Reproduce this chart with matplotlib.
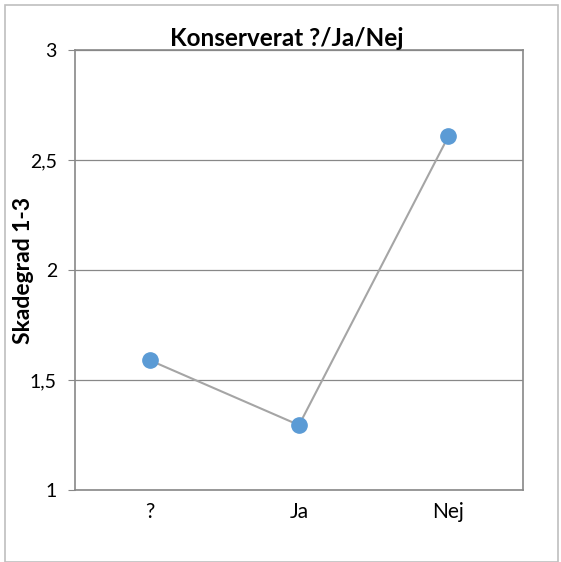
import matplotlib
matplotlib.use("Agg")
import matplotlib.pyplot as plt
from matplotlib.patches import Rectangle

categories = ["?", "Ja", "Nej"]
values = [1.59, 1.295, 2.607]
yticks = [1, 1.5, 2, 2.5, 3]
ytick_labels = ["1", "1,5", "2", "2,5", "3"]
title = "Konserverat ?/Ja/Nej"
ylabel = "Skadegrad 1-3"

plt.rcParams['font.family'] = ['Lato', 'DejaVu Sans']

fig = plt.figure(figsize=(5.61, 5.62), dpi=100)
fig.patches.append(Rectangle((5/561, 0), 553/561, 557/562, transform=fig.transFigure,
                             fill=False, edgecolor="#BFBFBF", linewidth=1.2))
ax = fig.add_axes([75/561, 72/562, 448/561, 440/562])

x = list(range(len(categories)))
ax.plot(x, values, color="#A5A5A5", linewidth=1.5, marker="o", markersize=11,
        markerfacecolor="#5B9BD5", markeredgecolor="#5B9BD5", zorder=3)

ax.set_xlim(-0.5, len(categories) - 0.5)
ax.set_ylim(1, 3)
ax.set_yticks(yticks)
ax.set_yticklabels(ytick_labels, fontsize=14)
ax.set_xticks(x)
ax.set_xticklabels(categories, fontsize=15)
ax.tick_params(axis="x", length=0, pad=9)
ax.tick_params(axis="y", length=5, color="#888888", pad=8)
ax.grid(axis="y", color="#888888", linewidth=0.9)
ax.set_axisbelow(True)
for s in ax.spines.values():
    s.set_color("#888888")
    s.set_linewidth(1.2)

fig.text(287/561, 1 - 46/562, title, ha="center", va="baseline", fontsize=17.5, fontweight="bold")
fig.text(24/561, 1 - 270/562, ylabel, ha="center", va="center", rotation=90,
         fontsize=16.5, fontweight="bold")

fig.savefig("out.png", dpi=100)
